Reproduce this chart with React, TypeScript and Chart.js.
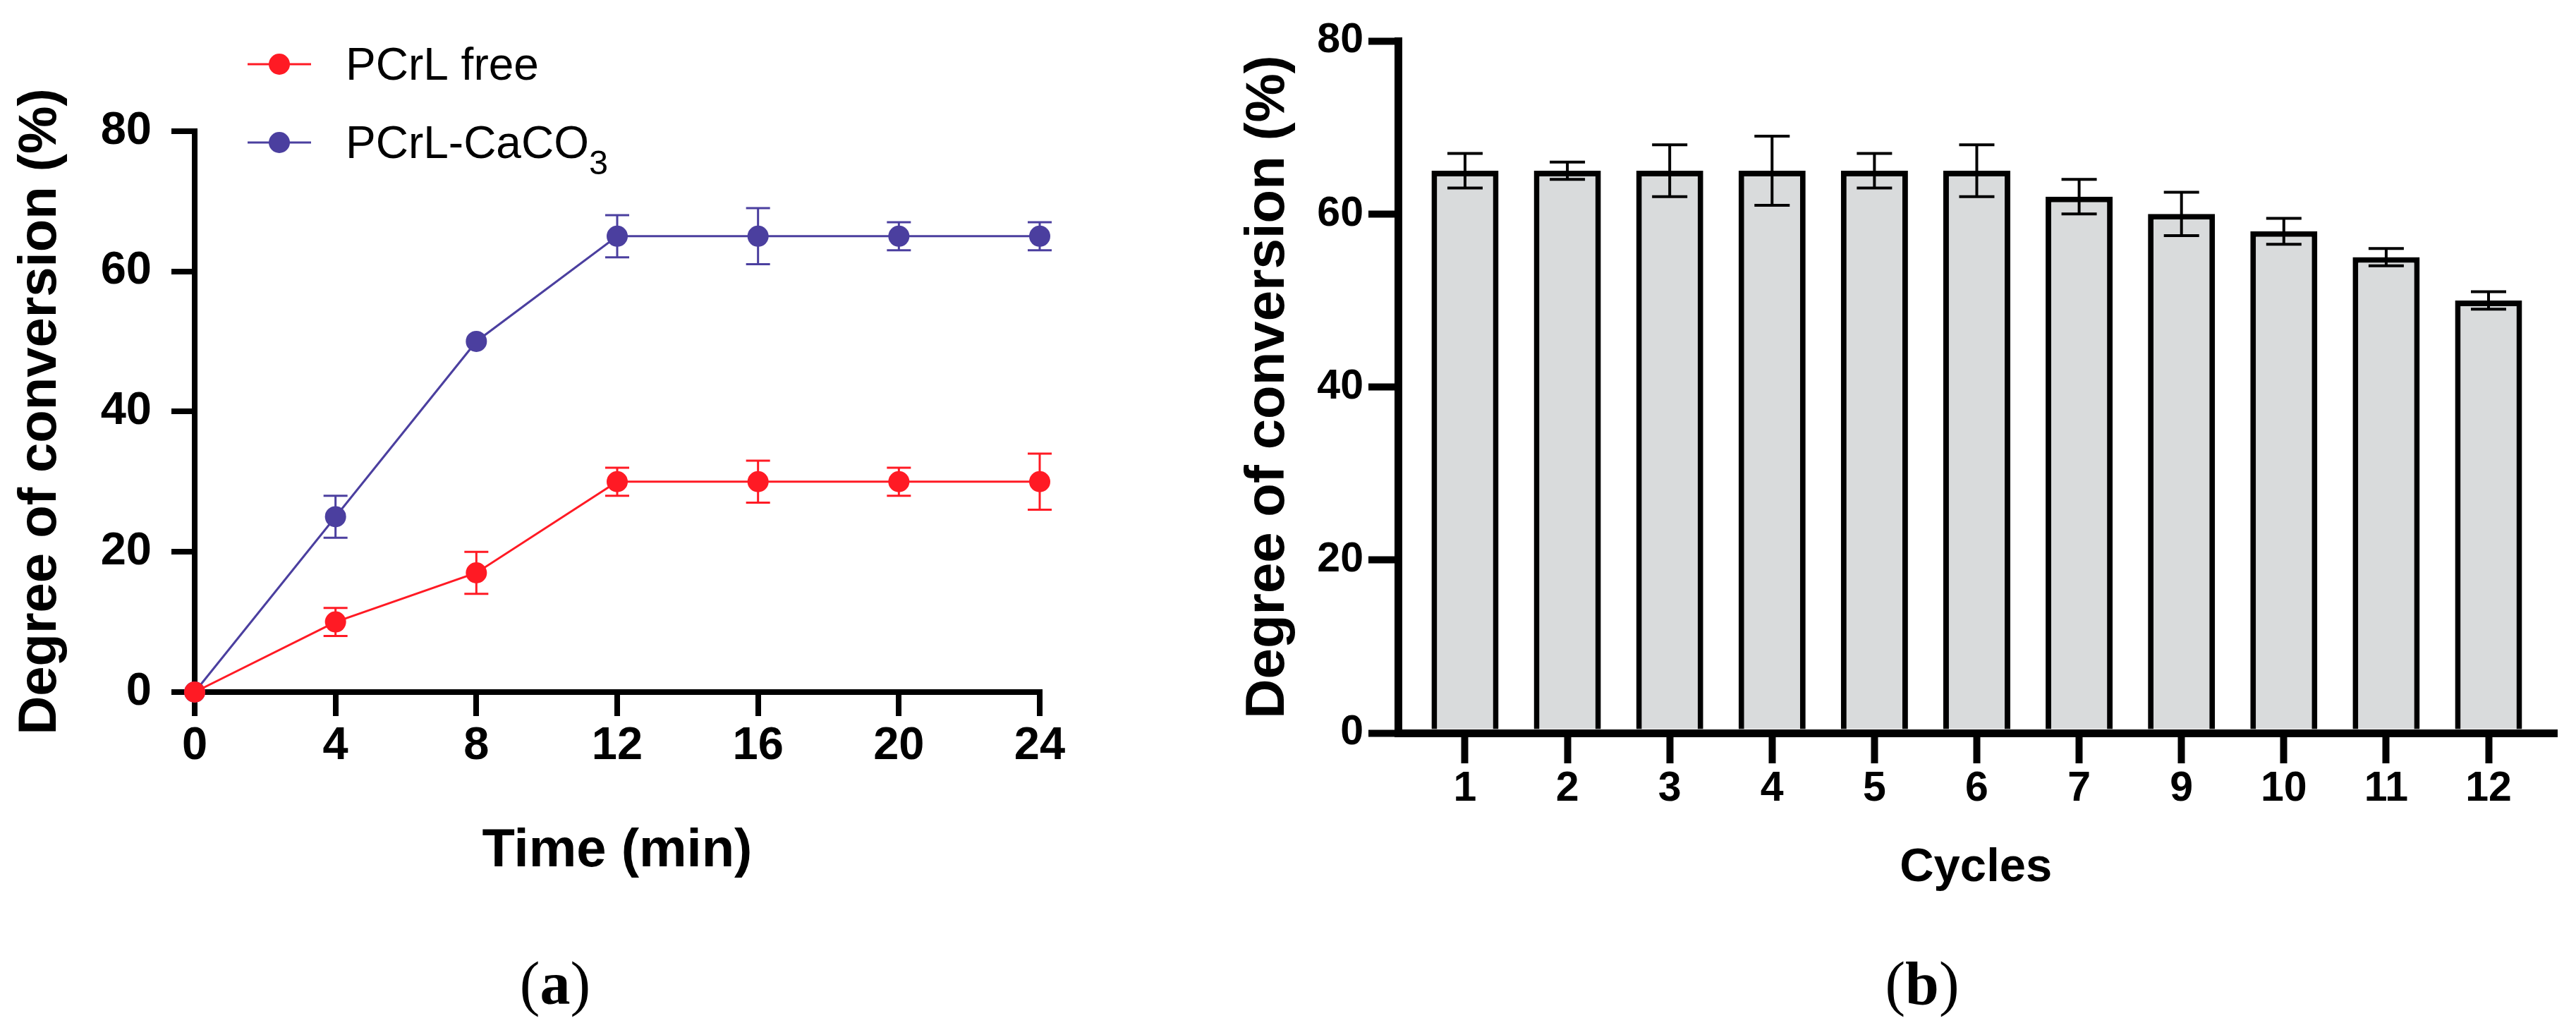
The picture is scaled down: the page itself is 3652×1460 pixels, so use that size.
import React, { useEffect, useRef } from "react";
import { Chart, registerables } from "chart.js";

Chart.register(...registerables);

// ---------- panel (a): degree of conversion vs time ----------
const TIME_MIN = [0, 4, 8, 12, 16, 20, 24];
const FREE_LABEL = "PCrL free";
const FREE_VALUES = [0, 10, 17, 30, 30, 30, 30];
const FREE_SD = [0, 2, 3, 2, 3, 2, 4];
const CACO3_LABEL = "PCrL-CaCO\u2083";
const CACO3_VALUES = [0, 25, 50, 65, 65, 65, 65];
const CACO3_SD = [0, 3, 0, 3, 4, 2, 2];
const TIME_TITLE = "Time (min)";

// ---------- panel (b): reuse cycles ----------
const CYCLE_LABELS = ["1", "2", "3", "4", "5", "6", "7", "9", "10", "11", "12"];
const CYCLE_VALUES = [65, 65, 65, 65, 65, 65, 62, 60, 58, 55, 50];
const CYCLE_SD = [2, 1, 3, 4, 2, 3, 2, 2.5, 1.5, 1, 1];
const CYCLE_TITLE = "Cycles";

const Y_TITLE = "Degree of conversion (%)";
const Y_MIN = 0;
const Y_MAX = 80;
const Y_STEP = 20;

const SANS = '"Liberation Sans", Arial, Helvetica, sans-serif';
const SERIF = '"Liberation Serif", "Times New Roman", serif';
const RED = "#FF1A24";
const BLUE = "#4B3F9F";
const BAR_FILL = "#D9DBDC";
const BLACK = "#000000";

// ---------- plugins ----------
function drawErrorBars(chart: any, opts: any) {
  const ctx = chart.ctx;
  const yScale = chart.scales.y;
  chart.data.datasets.forEach((ds: any, di: number) => {
    const errs: number[] | undefined = ds.errors;
    if (!errs) return;
    const meta = chart.getDatasetMeta(di);
    ctx.save();
    ctx.strokeStyle = opts.color || ds.borderColor;
    ctx.lineWidth = opts.lineWidth;
    ctx.lineCap = "butt";
    meta.data.forEach((el: any, j: number) => {
      const e = errs[j];
      if (!e) return;
      const raw = ds.data[j];
      const v = typeof raw === "number" ? raw : raw.y;
      const x = el.x;
      const yt = yScale.getPixelForValue(v + e);
      const yb = yScale.getPixelForValue(v - e);
      const h = opts.capHalfWidth;
      ctx.beginPath();
      ctx.moveTo(x, yt);
      ctx.lineTo(x, yb);
      ctx.moveTo(x - h, yt);
      ctx.lineTo(x + h, yt);
      ctx.moveTo(x - h, yb);
      ctx.lineTo(x + h, yb);
      ctx.stroke();
    });
    ctx.restore();
  });
}

const errorBarsPlugin = {
  id: "errorBars",
  beforeDatasetsDraw(chart: any, _a: any, opts: any) {
    if (opts && !opts.above) drawErrorBars(chart, opts);
  },
  afterDatasetsDraw(chart: any, _a: any, opts: any) {
    if (opts && opts.above) drawErrorBars(chart, opts);
  },
};

function drawRichText(ctx: CanvasRenderingContext2D, text: string, x: number, y: number, size: number, family: string, color: string) {
  const parts = text.split(/([\u2080-\u2089]+)/);
  let cx = x;
  ctx.fillStyle = color;
  ctx.textBaseline = "alphabetic";
  ctx.textAlign = "left";
  for (const part of parts) {
    if (!part) continue;
    if (/^[\u2080-\u2089]+$/.test(part)) {
      const s = Array.from(part)
        .map((c) => String.fromCharCode(c.charCodeAt(0) - 0x2080 + 48))
        .join("");
      ctx.font = `${size * 0.76}px ${family}`;
      ctx.fillText(s, cx, y + size * 0.36);
      cx += ctx.measureText(s).width;
    } else {
      ctx.font = `${size}px ${family}`;
      ctx.fillText(part, cx, y);
      cx += ctx.measureText(part).width;
    }
  }
}

const seriesLegendPlugin = {
  id: "seriesLegend",
  afterDraw(chart: any, _a: any, opts: any) {
    if (!opts || !opts.display) return;
    const ctx = chart.ctx;
    chart.data.datasets.forEach((ds: any, i: number) => {
      const y = opts.firstRowY + i * opts.rowGap;
      ctx.save();
      ctx.strokeStyle = ds.borderColor;
      ctx.lineWidth = opts.lineWidth;
      ctx.beginPath();
      ctx.moveTo(opts.lineX0, y);
      ctx.lineTo(opts.lineX1, y);
      ctx.stroke();
      ctx.fillStyle = ds.pointBackgroundColor;
      ctx.beginPath();
      ctx.arc((opts.lineX0 + opts.lineX1) / 2, y, opts.radius, 0, Math.PI * 2);
      ctx.fill();
      drawRichText(ctx, ds.label, opts.textX, y + opts.baselineOffset, opts.fontSize, SANS, BLACK);
      ctx.restore();
    });
  },
};

// ---------- configs ----------
function buildTimeChart(): any {
  const mk = (label: string, values: number[], sd: number[], color: string) => ({
    label,
    data: TIME_MIN.map((t, i) => ({ x: t, y: values[i] })),
    errors: sd,
    borderColor: color,
    backgroundColor: color,
    pointBackgroundColor: color,
    pointBorderColor: color,
    pointBorderWidth: 0,
    pointRadius: 15,
    pointHoverRadius: 15,
    borderWidth: 3,
    tension: 0,
    clip: false,
  });
  return {
    type: "line",
    data: {
      datasets: [mk(FREE_LABEL, FREE_VALUES, FREE_SD, RED), mk(CACO3_LABEL, CACO3_VALUES, CACO3_SD, BLUE)],
    },
    options: {
      animation: false,
      responsive: false,
      devicePixelRatio: 1,
      events: [],
      layout: { padding: { left: 0, top: 185.7, right: 226, bottom: 0 } },
      plugins: {
        legend: { display: false },
        tooltip: { enabled: false },
        errorBars: { above: false, lineWidth: 3, capHalfWidth: 17 },
        seriesLegend: {
          display: true,
          firstRowY: 91,
          rowGap: 111,
          lineX0: 351,
          lineX1: 441,
          lineWidth: 3,
          radius: 15,
          textX: 490,
          baselineOffset: 22,
          fontSize: 64,
        },
      },
      scales: {
        x: {
          type: "linear",
          min: TIME_MIN[0],
          max: TIME_MIN[TIME_MIN.length - 1],
          offset: false,
          ticks: {
            stepSize: 4,
            color: BLACK,
            padding: 4,
            maxRotation: 0,
            autoSkip: false,
            font: { family: SANS, size: 65, weight: "bold" },
          },
          grid: { display: true, drawOnChartArea: false, drawTicks: true, tickLength: 34, tickWidth: 8, lineWidth: 8, color: BLACK, tickColor: BLACK, offset: false },
          border: { display: true, width: 8, color: BLACK },
          title: { display: true, text: TIME_TITLE, color: BLACK, padding: { top: 0, bottom: 215 }, font: { family: SANS, size: 76, weight: "bold", lineHeight: 1 } },
          afterFit: (s: any) => {
            s.height = 1460 - 981;
          },
        },
        y: {
          type: "linear",
          min: Y_MIN,
          max: Y_MAX,
          ticks: { stepSize: Y_STEP, color: BLACK, padding: 28, font: { family: SANS, size: 65, weight: "bold" } },
          grid: { display: true, drawOnChartArea: false, drawTicks: true, tickLength: 33, tickWidth: 8, lineWidth: 8, color: BLACK, tickColor: BLACK },
          border: { display: true, width: 8, color: BLACK },
          title: { display: true, text: Y_TITLE, color: BLACK, padding: { top: 20, bottom: 0 }, font: { family: SANS, size: 76, weight: "bold", lineHeight: 1 } },
          afterFit: (s: any) => {
            s.width = 276;
          },
        },
      },
    },
    plugins: [errorBarsPlugin, seriesLegendPlugin],
  };
}

function buildCycleChart(): any {
  return {
    type: "bar",
    data: {
      datasets: [
        {
          label: "Degree of conversion",
          data: CYCLE_LABELS.map((_, i) => ({ x: i, y: CYCLE_VALUES[i] })),
          errors: CYCLE_SD,
          backgroundColor: BAR_FILL,
          borderColor: BLACK,
          borderWidth: 8,
          borderSkipped: "start",
          categoryPercentage: 1,
          barPercentage: 0.655,
        },
      ],
    },
    options: {
      animation: false,
      responsive: false,
      devicePixelRatio: 1,
      events: [],
      layout: { padding: { left: 0, top: 58, right: 32, bottom: 0 } },
      plugins: {
        legend: { display: false },
        tooltip: { enabled: false },
        errorBars: { above: true, lineWidth: 4, capHalfWidth: 25, color: BLACK },
      },
      scales: {
        x: {
          type: "linear",
          min: -0.651,
          max: CYCLE_LABELS.length - 1 + 0.634,
          offset: false,
          afterBuildTicks: (s: any) => {
            s.ticks = CYCLE_LABELS.map((_, i) => ({ value: i }));
          },
          ticks: {
            color: BLACK,
            padding: 1,
            maxRotation: 0,
            autoSkip: false,
            font: { family: SANS, size: 59, weight: "bold" },
            callback: (v: any) => CYCLE_LABELS[Math.round(Number(v))] ?? "",
          },
          grid: { display: true, drawOnChartArea: false, drawTicks: true, tickLength: 43, tickWidth: 10, lineWidth: 11, color: BLACK, tickColor: BLACK, offset: false },
          border: { display: true, width: 11, color: BLACK },
          title: { display: true, text: CYCLE_TITLE, color: BLACK, padding: { top: 0, bottom: 196 }, font: { family: SANS, size: 67, weight: "bold", lineHeight: 1 } },
          afterFit: (s: any) => {
            s.height = 1460 - 1039;
          },
        },
        y: {
          type: "linear",
          min: Y_MIN,
          max: Y_MAX,
          ticks: { stepSize: Y_STEP, color: BLACK, padding: 7, font: { family: SANS, size: 59, weight: "bold" } },
          grid: { display: true, drawOnChartArea: false, drawTicks: true, tickLength: 42.5, tickWidth: 10, lineWidth: 11, color: BLACK, tickColor: BLACK },
          border: { display: true, width: 11, color: BLACK },
          title: { display: true, text: Y_TITLE, color: BLACK, padding: { top: 59.5, bottom: 0 }, font: { family: SANS, size: 78, weight: "bold", lineHeight: 1 } },
          afterFit: (s: any) => {
            s.width = 282.5;
          },
        },
      },
    },
    plugins: [errorBarsPlugin],
  };
}

// ---------- components ----------
function ChartCanvas(props: { left: number; top: number; width: number; height: number; build: () => any }) {
  const ref = useRef<HTMLCanvasElement | null>(null);
  useEffect(() => {
    if (!ref.current) return;
    const chart = new Chart(ref.current, props.build());
    return () => chart.destroy();
  }, []);
  return (
    <canvas
      ref={ref}
      width={props.width}
      height={props.height}
      style={{ position: "absolute", left: props.left, top: props.top, width: props.width, height: props.height }}
    />
  );
}

function Caption(props: { letter: string; centerX: number }) {
  return (
    <div
      style={{
        position: "absolute",
        left: props.centerX,
        top: 1351,
        transform: "translateX(-50%)",
        fontFamily: SERIF,
        fontSize: 86,
        lineHeight: "86px",
        whiteSpace: "nowrap",
        color: BLACK,
      }}
    >
      (<b>{props.letter}</b>)
    </div>
  );
}

export default function App() {
  return (
    <div style={{ position: "absolute", left: 0, top: 0, width: 3652, height: 1460, background: "#ffffff", overflow: "hidden" }}>
      <ChartCanvas left={0} top={0} width={1700} height={1460} build={buildTimeChart} />
      <ChartCanvas left={1700} top={0} width={1952} height={1460} build={buildCycleChart} />
      <Caption letter="a" centerX={787} />
      <Caption letter="b" centerX={2725} />
    </div>
  );
}
